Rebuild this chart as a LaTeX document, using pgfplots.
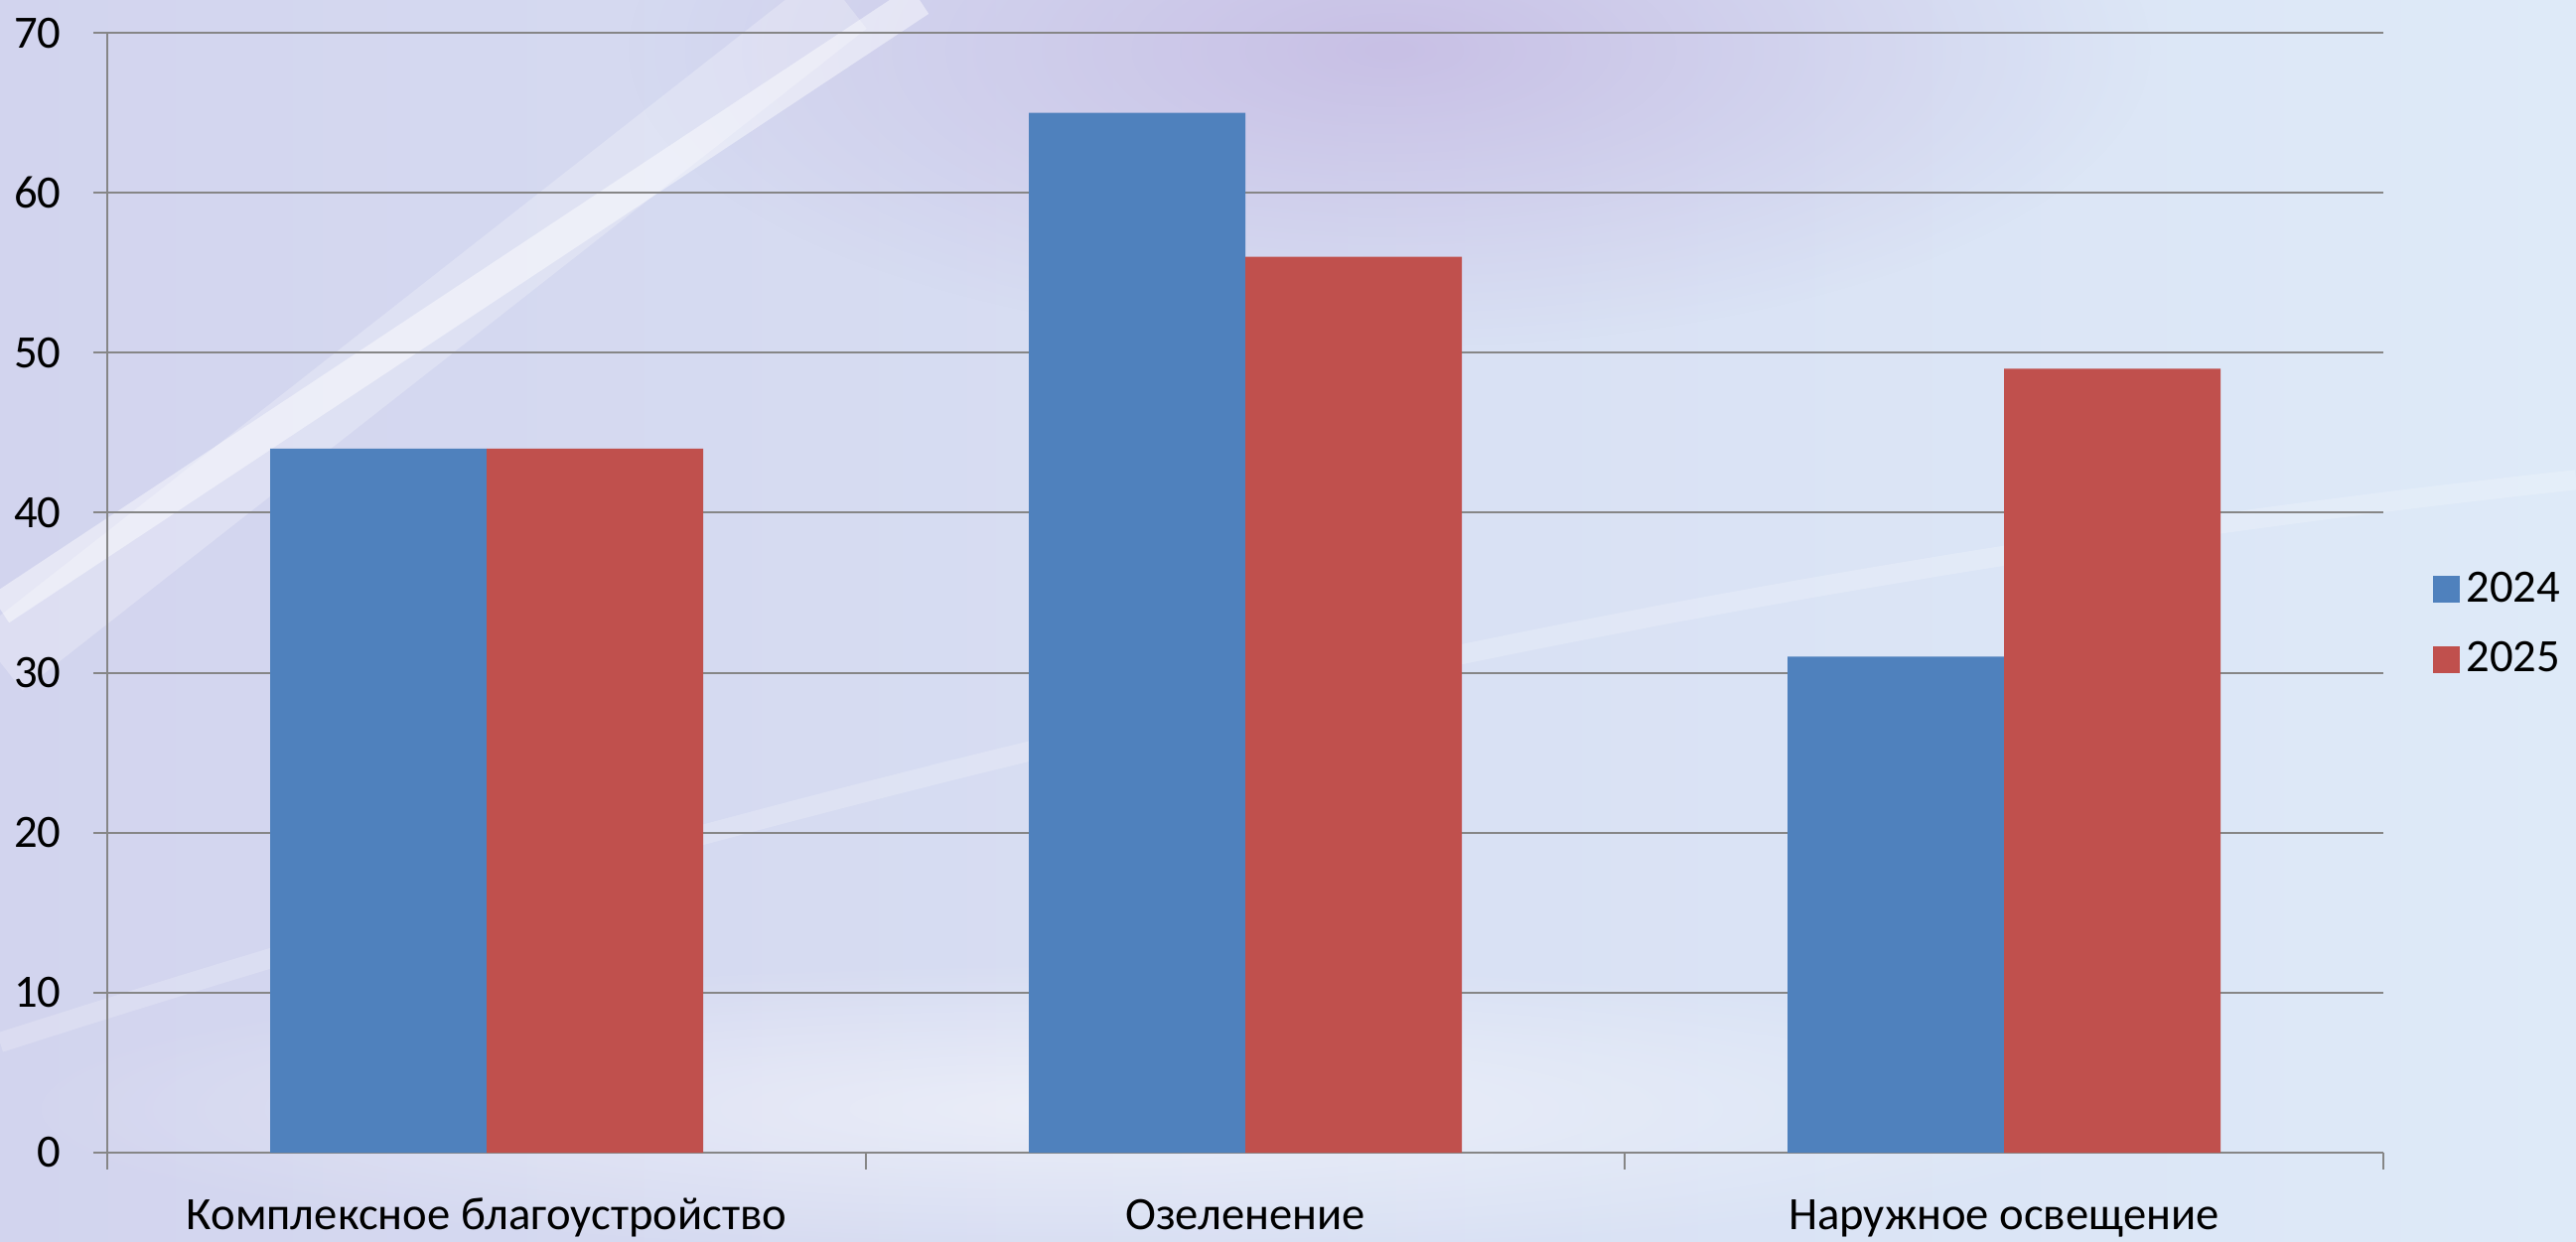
\documentclass[border=0pt]{standalone}
\usepackage{fontspec}
\setmainfont{Carlito}
\usepackage{pgfplots}
\pgfplotsset{compat=1.18}
\usetikzlibrary{fadings}
\tikzfading[name=fade out, inner color=transparent!0, outer color=transparent!100]
\definecolor{cBlue}{RGB}{79,129,189}
\definecolor{cRed}{RGB}{192,80,77}
\definecolor{gridgray}{RGB}{134,134,134}
\definecolor{bgL}{RGB}{210,212,238}
\definecolor{bgR}{RGB}{222,234,248}
\definecolor{bgP}{RGB}{196,184,226}
\begin{document}
\begin{tikzpicture}
\useasboundingbox (0,0) rectangle (778.2pt,375pt);
\shade[left color=bgL, right color=bgR] (0,0) rectangle (778.2pt,375pt);
\begin{scope}
\clip (0,0) rectangle (778.2pt,375pt);
\fill[bgP, path fading=fade out, opacity=0.8] (420pt,360pt) ellipse (230pt and 90pt);
\draw[white, opacity=0.45, line width=10pt] (0pt,191pt) -- (277.8pt,375pt);
\draw[white, opacity=0.25, line width=22pt] (0pt,175pt) -- (255pt,375pt);
\draw[white, opacity=0.2, line width=6pt] (0pt,60pt) .. controls (250pt,140pt) and (500pt,200pt) .. (778.2pt,230pt);
\fill[white, path fading=fade out, opacity=0.5] (330pt,40pt) ellipse (330pt and 45pt);
\end{scope}
\begin{axis}[
  at={(32.4pt,26.7pt)}, anchor=south west,
  scale only axis, width=687.6pt, height=338.4pt,
  xmin=-0.5, xmax=2.5, ymin=0, ymax=70,
  ybar=0pt, bar width=65.4pt,
  xtick={0,1,2},
  xticklabels={Комплексное благоустройство, Озеленение, Наружное освещение},
  minor xtick={-0.5,0.5,1.5,2.5},
  ytick={0,10,...,70},
  ymajorgrids, grid style={gridgray, line width=0.6pt},
  axis x line*=bottom, axis y line*=left,
  axis line style={gridgray, line width=0.6pt},
  tick align=outside,
  major x tick style={draw=none},
  minor tick length=5pt,
  major tick length=4.2pt,
  tick style={gridgray, line width=0.6pt},
  /pgf/number format/assume math mode=true,
  tick label style={font=\fontsize{14pt}{16pt}\selectfont, black},
  yticklabel style={inner sep=0pt, xshift=-9.6pt},
  xticklabel style={inner sep=0pt, anchor=base, yshift=-18.9pt},
  legend style={at={(1,0.4716)}, anchor=west, xshift=14.7pt, draw=none, fill=none,
    inner sep=0pt, row sep=6.5pt, font=\fontsize{14pt}{16pt}\selectfont},
  legend cell align=left,
  legend image code/.code={\fill[#1] (0pt,-4.05pt) rectangle (8.1pt,4.05pt);},
]
\addplot[fill=cBlue, draw=none] coordinates {(0,44) (1,65) (2,31)};
\addplot[fill=cRed, draw=none] coordinates {(0,44) (1,56) (2,49)};
\legend{2024,2025}
\end{axis}
\end{tikzpicture}
\end{document}
